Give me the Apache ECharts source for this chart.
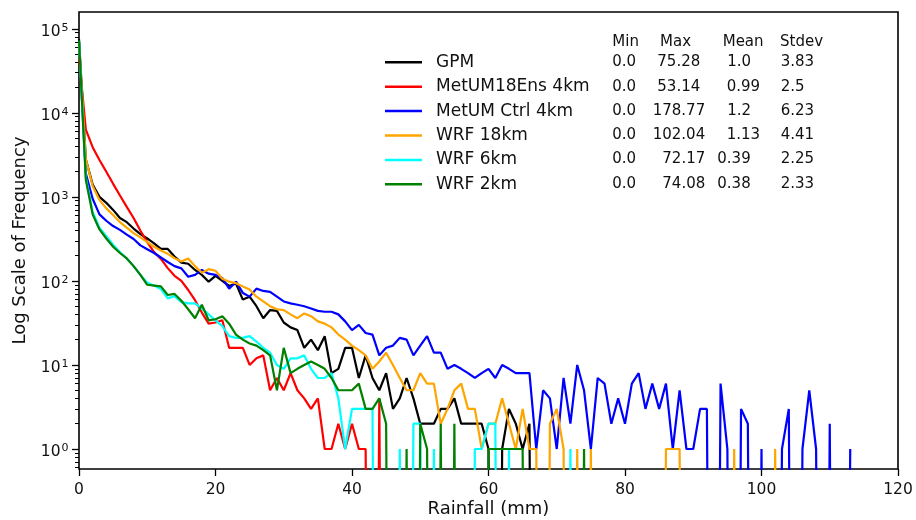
<!DOCTYPE html>
<html>
<head>
<meta charset="utf-8">
<script src="https://cdn.jsdelivr.net/npm/echarts@6/dist/echarts.min.js"></script>
<style>
  html, body { margin: 0; padding: 0; background: #fff; }
  #chart { width: 916px; height: 520px; }
</style>
</head>
<body>
<div id="chart"></div>
<script>
// Rainfall bins (mm) and frequency counts per bin for each dataset
const rainfallBins = [
  0, 1, 2, 3, 4, 5, 6, 7, 8, 9,
  10, 11, 12, 13, 14, 15, 16, 17, 18, 19,
  20, 21, 22, 23, 24, 25, 26, 27, 28, 29,
  30, 31, 32, 33, 34, 35, 36, 37, 38, 39,
  40, 41, 42, 43, 44, 45, 46, 47, 48, 49,
  50, 51, 52, 53, 54, 55, 56, 57, 58, 59,
  60, 61, 62, 63, 64, 65, 66, 67, 68, 69,
  70, 71, 72, 73, 74, 75, 76, 77, 78, 79,
  80, 81, 82, 83, 84, 85, 86, 87, 88, 89,
  90, 91, 92, 93, 94, 95, 96, 97, 98, 99,
  100, 101, 102, 103, 104, 105, 106, 107, 108, 109,
  110, 111, 112, 113
];

const seriesNames = ['GPM', 'MetUM18Ens 4km', 'MetUM Ctrl 4km', 'WRF 18km', 'WRF 6km', 'WRF 2km'];

const gpm = [
  75000, 2800, 1400, 1000, 850, 700, 560, 500, 420, 360,
  320, 280, 240, 240, 195, 165, 160, 135, 118, 98,
  115, 100, 87, 93, 60, 65, 50, 36, 45, 44,
  32, 28, 26, 16, 20, 15, 22, 8, 9, 16,
  16, 7, 13, 7, 5, 8, 3, 4, 7, 4,
  2, 2, 2, 3, 3, 4, 2, 2, 2, 2,
  1, 0, 1, 3, 2, 1, 2, 0, 0, 0,
  0, 0, 0, 0, 0, 0, 0, 0, 0, 0,
  0, 0, 0, 0, 0, 0, 0, 0, 0, 0,
  0, 0, 0, 0, 0, 0, 0, 0, 0, 0,
  0, 0, 0, 0, 0, 0, 0, 0, 0, 0,
  0, 0, 0, 0
];

const metum18Ens = [
  45000, 6300, 3900, 2750, 1990, 1430, 1040, 760, 560, 395,
  290, 220, 183, 142, 115, 100, 78, 59, 42, 31,
  32, 34, 16, 16, 16, 10, 12, 13, 5, 7,
  5, 8, 5, 4, 3, 4, 1, 1, 2, 1,
  2, 1, 1, 0, 4, 0, 0, 0, 0, 0,
  0, 0, 0, 0, 0, 0, 0, 0, 0, 0,
  0, 0, 0, 0, 0, 0, 0, 0, 0, 0,
  0, 0, 0, 0, 0, 0, 0, 0, 0, 0,
  0, 0, 0, 0, 0, 0, 0, 0, 0, 0,
  0, 0, 0, 0, 0, 0, 0, 0, 0, 0,
  0, 0, 0, 0, 0, 0, 0, 0, 0, 0,
  0, 0, 0, 0
];

const metumCtrl = [
  70000, 1900, 950, 620, 520, 450, 405, 355, 315, 265,
  238, 215, 190, 168, 150, 141, 112, 118, 135, 122,
  118, 108, 81, 98, 72, 65, 81, 76, 74, 65,
  57, 54, 52, 50, 47, 44, 43, 43, 40, 33,
  26, 30, 24, 23, 13, 16, 17, 21, 20, 13,
  17, 22, 14, 14, 9, 10, 9, 8, 7, 8,
  9, 7, 10, 9, 8, 8, 8, 1, 5, 4,
  1, 7, 2, 10, 5, 1, 7, 6, 2, 4,
  2, 6, 8, 3, 6, 3, 6, 1, 5, 1,
  1, 3, 3, 0, 6, 1, 0, 3, 2, 0,
  1, 0, 0, 1, 3, 0, 1, 5, 1, 0,
  2, 0, 0, 1
];

const wrf18 = [
  70000, 2800, 1350, 920, 730, 610, 500, 430, 370, 330,
  290, 255, 230, 210, 186, 170, 185, 150, 125, 138,
  132, 106, 98, 94, 86, 79, 65, 57, 50, 46,
  45, 40, 36, 41, 38, 33, 31, 28, 23, 20,
  17, 15, 13, 9, 11, 14, 10, 7, 5, 5,
  8, 6, 6, 2, 3, 5, 6, 3, 3, 1,
  2, 2, 4, 2, 1, 3, 1, 1, 0, 2,
  3, 1, 0, 1, 0, 1, 0, 0, 0, 0,
  0, 0, 0, 0, 0, 0, 1, 1, 1, 0,
  0, 0, 0, 0, 0, 0, 1, 0, 0, 0,
  0, 0, 1, 0, 0, 0, 0, 0, 0, 0,
  0, 0, 0, 0
];

const wrf6 = [
  72000, 1700, 660, 430, 340, 270, 220, 185, 150, 118,
  95, 88, 80, 62, 66, 56, 54, 54, 47, 40,
  34, 29, 22, 21, 21, 22, 19, 16, 14, 10,
  9, 12, 12, 13, 9, 7, 7, 8, 4, 1,
  3, 3, 3, 3, 0, 0, 0, 1, 0, 2,
  2, 0, 1, 0, 0, 0, 0, 0, 1, 1,
  2, 2, 0, 1, 0, 0, 0, 0, 0, 0,
  0, 0, 1, 0, 0, 0, 0, 0, 0, 0,
  0, 0, 0, 0, 0, 0, 0, 0, 0, 0,
  0, 0, 0, 0, 0, 0, 0, 0, 0, 0,
  0, 0, 0, 0, 0, 0, 0, 0, 0, 0,
  0, 0, 0, 0
];

const wrf2 = [
  72000, 1600, 620, 410, 320, 255, 215, 185, 150, 118,
  90, 88, 86, 68, 70, 58, 46, 36, 52, 34,
  35, 38, 31, 23, 20, 18, 17, 15, 13, 5,
  16, 8, 9, 10, 11, 10, 9, 7, 5, 5,
  5, 6, 3, 3, 4, 2, 0, 0, 1, 0,
  2, 1, 0, 2, 0, 2, 0, 0, 0, 0,
  1, 1, 1, 1, 1, 1, 0, 0, 0, 0,
  0, 0, 0, 0, 1, 0, 0, 0, 0, 0,
  0, 0, 0, 0, 0, 0, 0, 0, 0, 0,
  0, 0, 0, 0, 0, 0, 0, 0, 0, 0,
  0, 0, 0, 0, 0, 0, 0, 0, 0, 0,
  0, 0, 0, 0
];

// Summary statistics shown beside the legend
const statHeaders = ['Min', 'Max', 'Mean', 'Stdev'];
const statMin = ['0.0', '0.0', '0.0', '0.0', '0.0', '0.0'];
const statMax = ['75.28', '53.14', '178.77', '102.04', '72.17', '74.08'];
const statMean = ['1.0', '0.99', '1.2', '1.13', '0.39', '0.38'];
const statStdev = ['3.83', '2.5', '6.23', '4.41', '2.25', '2.33'];

// Axis ticks
const xTicks = [0, 20, 40, 60, 80, 100, 120];
const yDecades = [0, 1, 2, 3, 4, 5];
const yMinorMultipliers = [2, 3, 4, 5, 6, 7, 8, 9];

// ---- layout / style ----
const FONT = '"DejaVu Sans", "Liberation Sans", sans-serif';
const TEXT = '#111';
const colors = ['#000000', '#ff0000', '#0000ff', '#ffa500', '#00ffff', '#008000'];
const seriesData = [gpm, metum18Ens, metumCtrl, wrf18, wrf6, wrf2];

const Y_LOG_MIN = -0.238;   // log10 of the lower plot edge
const Y_LOG_MAX = 5.2;      // log10 of the upper plot edge
const ZERO_FLOOR = 1e-12;   // empty bins fall off the bottom of the log axis

const gridRect = { left: 79, right: 18, top: 12, bottom: 51 };

// log-spaced minor tick positions (in log10 units) inside the axis range
const minorTickLogs = [];
for (let d = -1; d <= 5; d++) {
  yMinorMultipliers.forEach(function (m) {
    const v = Math.log10(m) + d;
    if (v > Y_LOG_MIN && v < Y_LOG_MAX) minorTickLogs.push(v);
  });
}

const series = seriesNames.map(function (name, i) {
  return {
    name: name,
    type: 'line',
    xAxisIndex: 0,
    yAxisIndex: 1,
    data: rainfallBins.map(function (x, j) {
      const c = seriesData[i][j];
      return [x, c > 0 ? c : ZERO_FLOOR];
    }),
    showSymbol: false,
    symbol: 'none',
    clip: true,
    lineStyle: { color: colors[i], width: 2.2 },
    itemStyle: { color: colors[i] },
    emphasis: { disabled: true },
    animation: false
  };
});

// statistics table text
const tableHeaderY = 41.7;
const rowY = [62.3, 86.7, 110.9, 135.2, 159.6, 184.0];
const headerX = [612.3, 660, 722.7, 780];
const minX = [612.3, 612.3, 612.3, 612.3, 612.3, 612.3];
const maxX = [657.3, 657.3, 652.7, 652.7, 662.3, 662.3];
const meanX = [727.3, 726.7, 727.3, 726.7, 717.3, 717.3];
const stdX = [780.7, 780.7, 780.7, 780.7, 780.7, 780.7];

function txt(x, y, s, size, extra) {
  return Object.assign({
    type: 'text', x: x, y: y, silent: true,
    style: { text: s, fill: TEXT, fontSize: size, fontFamily: FONT, align: 'left', verticalAlign: 'middle' }
  }, extra || {});
}

const graphics = [];
statHeaders.forEach(function (h, k) { graphics.push(txt(headerX[k], tableHeaderY, h, 15)); });
seriesNames.forEach(function (_, r) {
  graphics.push(txt(minX[r], rowY[r], statMin[r], 15));
  graphics.push(txt(maxX[r], rowY[r], statMax[r], 15));
  graphics.push(txt(meanX[r], rowY[r], statMean[r], 15));
  graphics.push(txt(stdX[r], rowY[r], statStdev[r], 15));
});
// axis titles
graphics.push({
  type: 'text', x: 20, y: 240.5, rotation: Math.PI / 2, silent: true,
  style: { text: 'Log Scale of Frequency', fill: TEXT, fontSize: 18, fontFamily: FONT, align: 'center', verticalAlign: 'middle' }
});
graphics.push({
  type: 'text', x: 488.5, y: 509, silent: true,
  style: { text: 'Rainfall (mm)', fill: TEXT, fontSize: 18, fontFamily: FONT, align: 'center', verticalAlign: 'middle' }
});

const chart = echarts.init(document.getElementById('chart'), null, { renderer: 'canvas' });
chart.setOption({
  animation: false,
  backgroundColor: '#fff',
  grid: [
    Object.assign({ show: true, borderColor: '#000', borderWidth: 1.6, backgroundColor: 'transparent' }, gridRect),
    Object.assign({ show: false }, gridRect)
  ],
  legend: {
    orient: 'vertical',
    left: 380,
    top: 47.3,
    icon: 'rect',
    itemWidth: 37,
    itemHeight: 2.5,
    itemGap: 4.4,
    selectedMode: false,
    data: seriesNames,
    textStyle: { fontFamily: FONT, fontSize: 17, color: TEXT, lineHeight: 20, padding: [0, 0, 0, 9] }
  },
  xAxis: [
    {
      gridIndex: 0,
      type: 'value',
      position: 'bottom',
      min: xTicks[0],
      max: xTicks[xTicks.length - 1],
      interval: xTicks[1] - xTicks[0],
      axisLine: { show: false, onZero: false },
      axisTick: { show: true, length: 7, lineStyle: { color: '#000', width: 1.3 } },
      axisLabel: { fontFamily: FONT, fontSize: 15.5, color: TEXT, margin: 13 },
      splitLine: { show: false }
    },
    { gridIndex: 1, type: 'value', min: 0, max: 120, show: false, axisLine: { onZero: false } }
  ],
  yAxis: [
    {
      // decade ticks and labels, in log10 units
      gridIndex: 0,
      type: 'value',
      position: 'left',
      min: Y_LOG_MIN,
      max: Y_LOG_MAX,
      axisLine: { show: false, onZero: false },
      splitLine: { show: false },
      axisTick: { show: true, customValues: yDecades, length: 7, lineStyle: { color: '#000', width: 1.3 } },
      axisLabel: {
        customValues: yDecades,
        margin: 10.5,
        formatter: function (v) { return '{b|10}{s|' + Math.round(v) + '}'; },
        padding: [6, 0, 0, 0],
        rich: {
          b: { fontFamily: FONT, fontSize: 15.5, color: TEXT, lineHeight: 18 },
          s: { fontFamily: FONT, fontSize: 11, color: TEXT, lineHeight: 11, verticalAlign: 'top', padding: [0, 0, 0, 1] }
        }
      }
    },
    {
      // frequency scale used by the data
      gridIndex: 0,
      type: 'log',
      logBase: 10,
      min: Math.pow(10, Y_LOG_MIN),
      max: Math.pow(10, Y_LOG_MAX),
      show: false,
      axisLine: { onZero: false }
    },
    {
      // minor log ticks
      gridIndex: 1,
      type: 'value',
      position: 'left',
      min: Y_LOG_MIN,
      max: Y_LOG_MAX,
      axisLine: { show: false, onZero: false },
      splitLine: { show: false },
      axisLabel: { show: false },
      axisTick: { show: true, customValues: minorTickLogs, length: 4, lineStyle: { color: '#000', width: 1 } }
    }
  ],
  graphic: graphics,
  series: series
});
</script>
</body>
</html>
